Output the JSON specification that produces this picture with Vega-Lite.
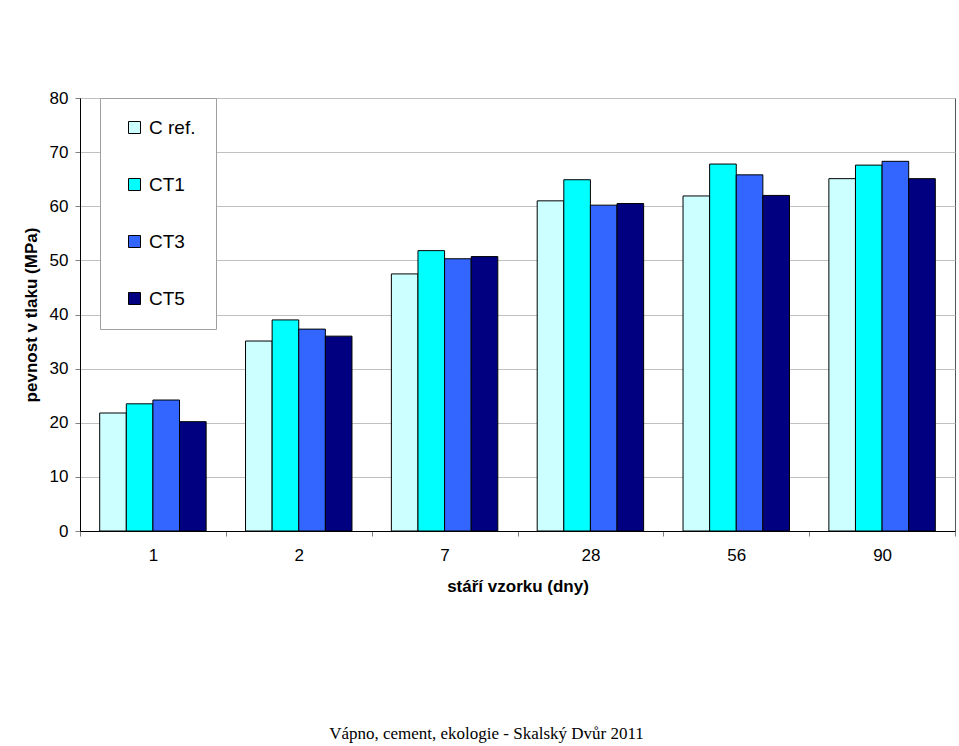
{
  "$schema": "https://vega.github.io/schema/vega-lite/v6.json",
  "width": 875,
  "height": 433,
  "autosize": "none",
  "padding": {"left": 80, "top": 98, "right": 4, "bottom": 215},
  "background": "white",
  "config": {
    "font": "Liberation Sans",
    "view": {"stroke": "#555555", "strokeWidth": 1},
    "axis": {"labelFont": "Liberation Sans", "titleFont": "Liberation Sans", "labelColor": "black", "titleColor": "black", "labelFontSize": 17, "titleFontSize": 17, "titleFontWeight": "bold", "domainColor": "black", "tickColor": "#808080"},
    "legend": {"orient": "none", "legendX": 20, "legendY": 0, "fillColor": "white", "strokeColor": "#a0a0a0", "padding": 20, "rowPadding": 37, "symbolType": "square", "symbolSize": 144, "symbolStrokeColor": "black", "symbolStrokeWidth": 1, "labelFontSize": 19, "labelFont": "Liberation Sans", "labelColor": "black", "symbolOffset": 5, "labelOffset": 5}
  },
  "data": {
    "values": [
      {"age": "1", "series": "C ref.", "value": 21.8},
      {"age": "1", "series": "CT1", "value": 23.5},
      {"age": "1", "series": "CT3", "value": 24.2},
      {"age": "1", "series": "CT5", "value": 20.2},
      {"age": "2", "series": "C ref.", "value": 35.1},
      {"age": "2", "series": "CT1", "value": 39.0},
      {"age": "2", "series": "CT3", "value": 37.3},
      {"age": "2", "series": "CT5", "value": 36.0},
      {"age": "7", "series": "C ref.", "value": 47.5},
      {"age": "7", "series": "CT1", "value": 51.8},
      {"age": "7", "series": "CT3", "value": 50.3},
      {"age": "7", "series": "CT5", "value": 50.7},
      {"age": "28", "series": "C ref.", "value": 61.0},
      {"age": "28", "series": "CT1", "value": 64.9},
      {"age": "28", "series": "CT3", "value": 60.2},
      {"age": "28", "series": "CT5", "value": 60.5},
      {"age": "56", "series": "C ref.", "value": 61.9},
      {"age": "56", "series": "CT1", "value": 67.8},
      {"age": "56", "series": "CT3", "value": 65.8},
      {"age": "56", "series": "CT5", "value": 62.0},
      {"age": "90", "series": "C ref.", "value": 65.1},
      {"age": "90", "series": "CT1", "value": 67.6},
      {"age": "90", "series": "CT3", "value": 68.3},
      {"age": "90", "series": "CT5", "value": 65.1}
    ]
  },
  "mark": {"type": "bar", "stroke": "black", "strokeWidth": 1},
  "encoding": {
    "x": {
      "field": "age", "type": "nominal", "sort": ["1", "2", "7", "28", "56", "90"],
      "scale": {"paddingInner": 0, "paddingOuter": 0},
      "axis": {"title": "stáří vzorku (dny)", "labelAngle": 0, "tickBand": "extent", "tickSize": 5, "labelPadding": 11, "titlePadding": 15}
    },
    "xOffset": {
      "field": "series", "type": "nominal", "sort": ["C ref.", "CT1", "CT3", "CT5"],
      "scale": {"paddingInner": 0, "paddingOuter": 0.74}
    },
    "y": {
      "field": "value", "type": "quantitative",
      "scale": {"domain": [0, 80]},
      "axis": {"title": "pevnost v tlaku (MPa)", "values": [0, 10, 20, 30, 40, 50, 60, 70, 80], "grid": true, "gridColor": "#c0c0c0", "tickSize": 5, "labelPadding": 7, "titlePadding": 9}
    },
    "color": {
      "field": "series", "type": "nominal", "sort": ["C ref.", "CT1", "CT3", "CT5"],
      "scale": {"domain": ["C ref.", "CT1", "CT3", "CT5"], "range": ["#ccffff", "#00ffff", "#3366ff", "#000080"]},
      "legend": {"title": null, "labelExpr": "datum.label + ' '"}
    }
  },
  "title": {
    "text": "Vápno, cement, ekologie - Skalský Dvůr 2011",
    "orient": "bottom",
    "anchor": "middle",
    "dx": -31,
    "offset": 132,
    "font": "Liberation Serif",
    "fontSize": 17,
    "fontWeight": "normal",
    "color": "black"
  }
}
